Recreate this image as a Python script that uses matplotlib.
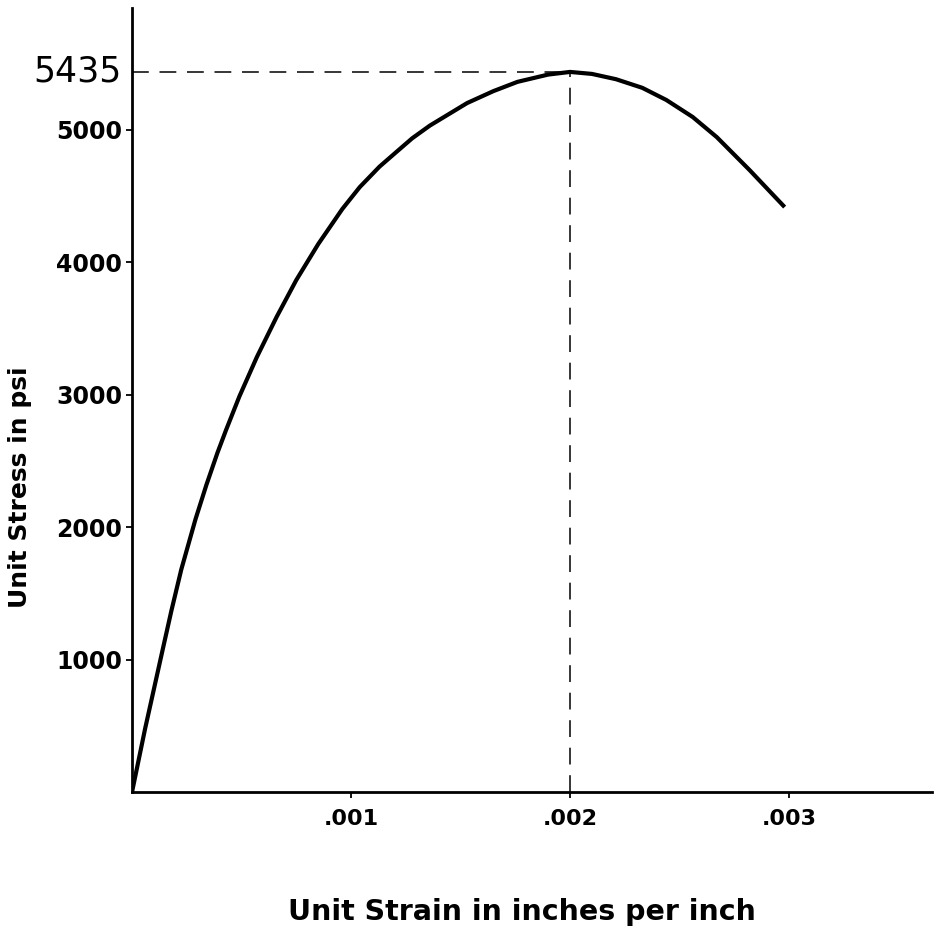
import matplotlib
matplotlib.use("Agg")
from matplotlib import pyplot as plt

# readings
strain = [0, 0.00006, 0.00014, 0.00018, 0.000225, 0.00029, 0.00034, 0.00039,
          0.00043, 0.00049, 0.00057, 0.00066, 0.00075, 0.00085, 0.00096,
          0.00104, 0.00113, 0.00121, 0.00128, 0.00136, 0.00153, 0.00165,
          0.00176, 0.0019, 0.002, 0.0021, 0.00221, 0.00233, 0.00244,
          0.00256, 0.00267, 0.00282, 0.00298]
stress = [0, 480, 1075, 1370, 1680, 2060, 2320, 2560, 2735, 2985, 3283,
          3585, 3864, 4135, 4400, 4566, 4720, 4835, 4935, 5030, 5200, 5290,
          5360, 5415, 5435, 5420, 5380, 5315, 5223, 5095, 4943, 4694, 4415]

peak_strain = 0.002
peak_stress = 5435

x_ticks = [0.001, 0.002, 0.003]
x_labels = [".001", ".002", ".003"]
y_ticks = [1000, 2000, 3000, 4000, 5000]
y_labels = ["1000", "2000", "3000", "4000", "5000"]


def main():
    fig = plt.figure(figsize=(9.37, 9.27), dpi=100)
    axis = fig.add_axes([0.1409, 0.1456, 0.8538, 0.8457])

    axis.plot(strain, stress, color="black", lw=3.0,
              solid_capstyle="butt", solid_joinstyle="round")

    dash = (0, (11, 7))
    axis.plot([0, peak_strain], [peak_stress, peak_stress],
              color="black", lw=1.1, linestyle=dash)
    axis.plot([peak_strain, peak_strain], [0, peak_stress],
              color="black", lw=1.1, linestyle=dash)

    axis.set_xlim(0, 0.003653)
    axis.set_ylim(0, 5917)

    for side in ("top", "right"):
        axis.spines[side].set_visible(False)
    for side in ("left", "bottom"):
        axis.spines[side].set_linewidth(2.0)

    axis.set_xticks(x_ticks)
    axis.set_xticklabels(x_labels, fontsize=16, fontweight="bold")
    axis.set_yticks(y_ticks)
    axis.set_yticklabels(y_labels, fontsize=17, fontweight="bold")
    axis.tick_params(axis="both", direction="out", length=4, width=1.3,
                     pad=3)
    axis.tick_params(axis="x", pad=8)

    # the peak value, lettered larger at the axis
    axis.text(-0.00005, peak_stress, str(peak_stress), fontsize=25,
              ha="right", va="center")

    axis.set_xlabel("Unit Strain in inches per inch",
                    fontsize=20.5, fontweight="bold")
    axis.xaxis.set_label_coords(0.4875, -0.153)
    axis.xaxis.label.set_va("center")
    axis.set_ylabel("Unit Stress in psi", fontsize=18, fontweight="bold")
    axis.yaxis.set_label_coords(-0.14, 0.389)
    axis.yaxis.label.set_va("center")

    fig.savefig("out.png", dpi=100, facecolor="white")


main()
